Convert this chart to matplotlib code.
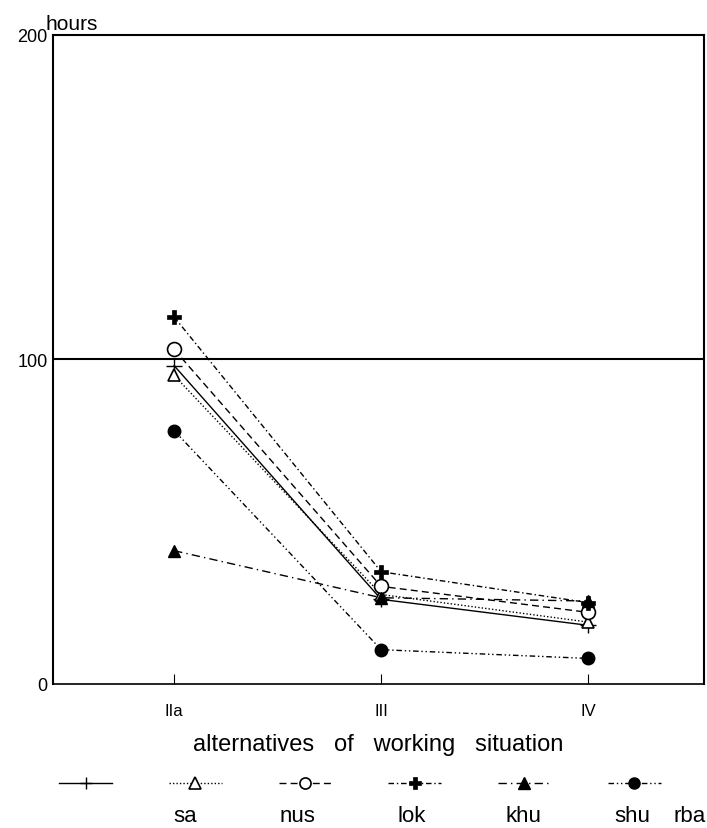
import matplotlib.pyplot as plt

situations = ['IIa', 'III', 'IV']
series = ['sa', 'nus', 'lok', 'khu', 'shu', 'rba']
sa = [98, 26, 18]
nus = [95, 27.5, 19]
lok = [103, 30, 22]
khu = [113, 34.5, 25]
shu = [41, 26.5, 25.5]
rba = [78, 10.5, 7.8]

styles = {
    'sa': dict(ls='-', marker='+', mfc='black', ms=12, mew=1.0),
    'nus': dict(ls=(0, (1, 1.5)), marker='^', mfc='white', ms=9, mew=1.2),
    'lok': dict(ls=(0, (5, 3)), marker='o', mfc='white', ms=10, mew=1.2),
    'khu': dict(ls=(0, (4, 2, 1, 2)), marker='P', mfc='black', ms=10, mew=0.5),
    'shu': dict(ls=(0, (6, 3, 1, 3)), marker='^', mfc='black', ms=9, mew=1.0),
    'rba': dict(ls=(0, (4, 2, 1, 2, 1, 2)), marker='o', mfc='black', ms=9, mew=1.0),
}


def main():
    plt.rcParams['font.family'] = ['Liberation Sans', 'DejaVu Sans']
    fig = plt.figure(figsize=(7.07, 8.29), dpi=100)
    ax = fig.add_axes([0.075, 0.174, 0.921, 0.783])

    x = list(range(len(situations)))
    data = dict(sa=sa, nus=nus, lok=lok, khu=khu, shu=shu, rba=rba)
    handles = []
    for name in series:
        st = styles[name]
        line, = ax.plot(x, data[name], color='black', lw=1.0, ls=st['ls'],
                        marker=st['marker'], ms=st['ms'], mfc=st['mfc'],
                        mec='black', mew=st['mew'], label=name)
        handles.append(line)

    ax.axhline(100, color='black', lw=1.5)
    ax.set_ylim(0, 200)
    ax.set_xlim(-0.585, 2.56)
    ax.set_yticks([0, 100, 200])
    ax.set_yticklabels(['0', '100', '200'], fontsize=13)
    ax.tick_params(axis='y', length=0, pad=4)
    ax.set_xticks(x)
    ax.set_xticklabels(situations, fontsize=12)
    ax.tick_params(axis='x', direction='in', length=7, pad=14)
    for sp in ax.spines.values():
        sp.set_linewidth(1.5)
    ax.spines['bottom'].set_linewidth(1.2)

    ax.text(-0.012, 1.003, 'hours', transform=ax.transAxes, fontsize=15,
            ha='left', va='bottom')
    ax.set_xlabel('alternatives   of   working   situation', fontsize=17,
                  labelpad=11)

    leg = fig.legend(handles, [''] * len(series), ncol=6, loc='center',
                     bbox_to_anchor=(0.509, 0.053), frameon=False,
                     handlelength=3.8, handletextpad=0, columnspacing=4.1)
    for h in leg.legend_handles:
        h.set_markersize(8)
    label_x = [0.262, 0.421, 0.583, 0.74, 0.894, 0.976]
    for lx, name in zip(label_x, series):
        fig.text(lx, 0.015, name, fontsize=16, ha='center', va='center')

    fig.savefig('out.png', dpi=100)


if __name__ == '__main__':
    main()
